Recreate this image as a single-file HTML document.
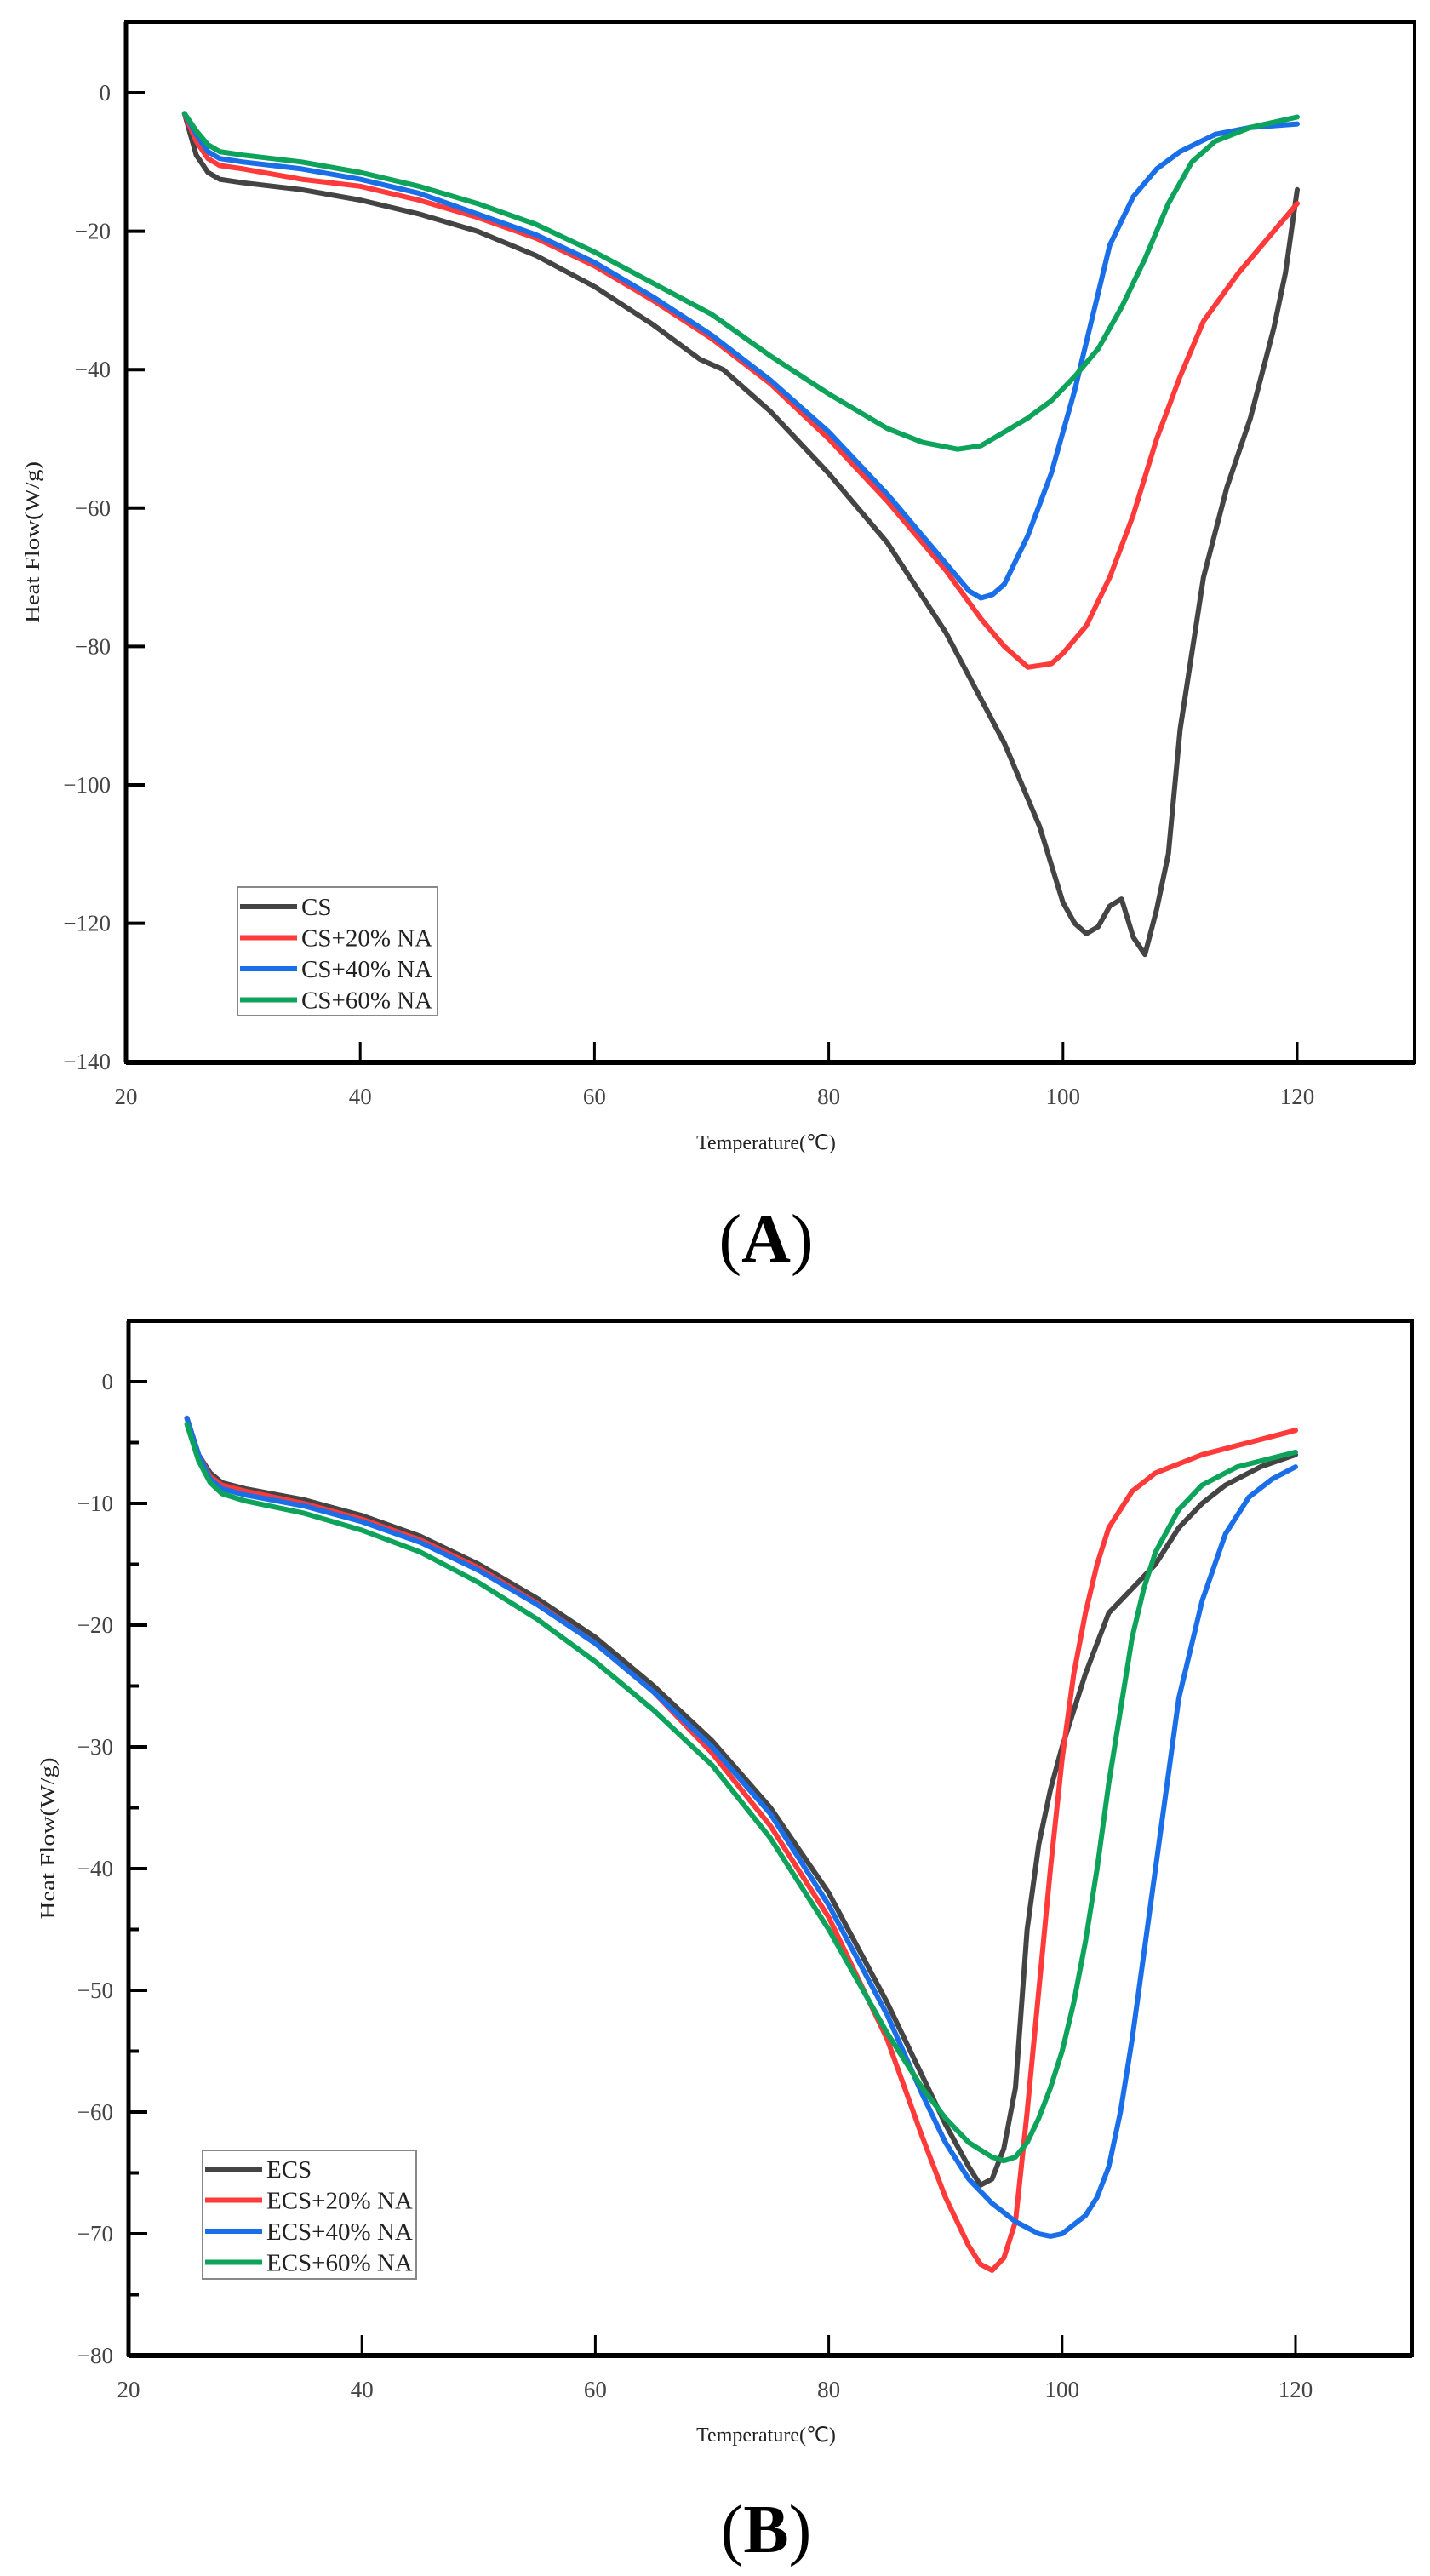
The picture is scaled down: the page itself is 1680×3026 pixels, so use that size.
<!DOCTYPE html>
<html><head><meta charset="utf-8"><style>
html,body{margin:0;padding:0;background:#fff;}
svg{display:block;font-family:"Liberation Serif",serif;}
</style></head><body>
<svg id="fig" width="1680" height="3026" viewBox="0 0 1680 3026"></svg>
<script>
// ---------- Panel A data ----------
const aX_CS   = [25,26,27,28,30,35,40,45,50,55,60,65,69,71,75,80,85,90,95,98,100,101,102,103,104,105,106,107,108,109,110,112,114,116,118,119,120];
const aY_CS   = [-3,-9,-11.5,-12.5,-13,-14,-15.5,-17.5,-20,-23.5,-28,-33.5,-38.5,-40,-46,-55,-65,-78,-94,-106,-117,-120,-121.5,-120.5,-117.5,-116.5,-122,-124.5,-118,-110,-92,-70,-57,-47,-34,-26,-14];
const aX_20   = [25,26,27,28,30,35,40,45,50,55,60,65,70,75,80,85,90,93,95,97,99,100,102,104,106,108,110,112,115,118,120];
const aY_20   = [-3,-7,-9.5,-10.5,-11,-12.5,-13.5,-15.5,-18,-21,-25,-30,-35.5,-42,-50,-59,-69,-76,-80,-83,-82.5,-81,-77,-70,-61,-50,-41,-33,-26,-20,-16];
const aX_40   = [25,26,27,28,30,35,40,45,50,55,60,65,70,75,80,85,88,90,92,93,94,95,97,99,101,102,103,104,106,108,110,113,116,120];
const aY_40   = [-3,-6,-8.5,-9.5,-10,-11,-12.5,-14.5,-17.5,-20.5,-24.5,-29.5,-35,-41.5,-49,-58,-64,-68,-72,-73,-72.5,-71,-64,-55,-43,-36,-29,-22,-15,-11,-8.5,-6,-5,-4.5];
const aX_60   = [25,26,27,28,30,35,40,45,50,55,60,65,70,75,80,85,88,91,93,95,97,99,101,103,105,107,109,111,113,116,120];
const aY_60   = [-3,-5.5,-7.5,-8.5,-9,-10,-11.5,-13.5,-16,-19,-23,-27.5,-32,-38,-43.5,-48.5,-50.5,-51.5,-51,-49,-47,-44.5,-41,-37,-31,-24,-16,-10,-7,-5,-3.5];
const aLabels = ["CS","CS+20% NA","CS+40% NA","CS+60% NA"];
const aYTicks = [0,-20,-40,-60,-80,-100,-120,-140];
// ---------- Panel B data ----------
const bX_CS = [25,26,27,28,30,35,40,45,50,55,60,65,70,75,80,85,88,90,92,93,94,95,96,97,98,99,100,102,104,106,108,110,112,114,117,120];
const bY_CS = [-3,-6,-7.5,-8.3,-8.8,-9.7,-11,-12.7,-15,-17.8,-21,-25,-29.5,-35,-42,-51,-57,-61,-64.5,-66,-65.5,-63,-58,-45,-38,-33.5,-30,-24,-19,-17,-15,-12,-10,-8.5,-7,-6];
const bX_20 = [25,26,27,28,30,35,40,45,50,55,60,65,70,75,80,85,88,90,92,93,94,95,96,97,98,99,100,101,102,103,104,106,108,112,116,120];
const bY_20 = [-3,-6,-7.8,-8.5,-9,-10,-11.3,-13,-15.3,-18.2,-21.5,-25.5,-30.5,-36.5,-44,-54,-62,-67,-71,-72.5,-73,-72,-69,-60,-50,-40,-31,-24,-19,-15,-12,-9,-7.5,-6,-5,-4];
const bX_40 = [25,26,27,28,30,35,40,45,50,55,60,65,70,75,80,85,88,90,92,94,96,98,99,100,102,103,104,105,106,107,108,109,110,112,114,116,118,120];
const bY_40 = [-3,-6,-8,-8.8,-9.3,-10.2,-11.5,-13.2,-15.5,-18.3,-21.5,-25.5,-30,-35.5,-43,-52,-58.5,-62.5,-65.5,-67.5,-69,-70,-70.2,-70,-68.5,-67,-64.5,-60,-54,-47,-40,-33,-26,-18,-12.5,-9.5,-8,-7];
const bX_60 = [25,26,27,28,30,35,40,45,50,55,60,65,70,75,80,85,88,90,92,94,95,96,97,98,99,100,101,102,103,104,105,106,107,108,110,112,115,120];
const bY_60 = [-3.5,-6.5,-8.3,-9.2,-9.8,-10.8,-12.2,-14,-16.5,-19.5,-23,-27,-31.5,-37.5,-45,-53.5,-58,-60.5,-62.5,-63.7,-64,-63.7,-62.5,-60.5,-58,-55,-51,-46,-40,-33,-27,-21,-17,-14,-10.5,-8.5,-7,-5.8];
const bLabels = ["ECS","ECS+20% NA","ECS+40% NA","ECS+60% NA"];
const bYTicks = [0,-10,-20,-30,-40,-50,-60,-70,-80];
const xTicks = [20,40,60,80,100,120];

const colors = ["#444444","#ff3a3a","#1a6fe8","#0ea35a"];
const NS = "http://www.w3.org/2000/svg";
const svg = document.getElementById("fig");
function mk(tag, attrs, parent){const e=document.createElementNS(NS,tag);for(const k in attrs)e.setAttribute(k,attrs[k]);(parent||svg).appendChild(e);return e;}

function panel(cfg){
  const g = mk("g",{});
  
  
  const L=cfg.left,R=cfg.right,T=cfg.top,B=cfg.bottom;
  const xs = v => L + (v-20)/100*(cfg.x120-L);
  const ys = v => cfg.y0 + (-v)*cfg.ppu;
  // series
  cfg.series.forEach((s,i)=>{
    const pts = s.x.map((xv,j)=>xs(xv).toFixed(1)+","+ys(s.y[j]).toFixed(1)).join(" ");
    const pl = mk("polyline",{points:pts,fill:"none",stroke:colors[i],"stroke-width":6,"stroke-linejoin":"round","stroke-linecap":"round"},g);
    
    
  });
  // frame
  const fr = mk("rect",{x:L,y:T,width:R-L,height:B-T,fill:"none",stroke:"#000","stroke-width":4},g);
  
  
  mk("line",{x1:L,y1:B,x2:R,y2:B,stroke:"#000","stroke-width":6},g);
  mk("line",{x1:L,y1:T,x2:L,y2:B,stroke:"#000","stroke-width":5},g);
  // x ticks
  xTicks.forEach(t=>{
    const x=xs(t);
    if(t>20) mk("line",{x1:x,y1:B,x2:x,y2:B-24,stroke:"#000","stroke-width":3},g);
    const tx = mk("text",{x:x,y:cfg.xLabelY,"text-anchor":"middle","font-size":27,fill:"#444"},g);
    tx.textContent=t;
    
    
  });
  // y ticks
  cfg.yTicks.forEach(t=>{
    const y=ys(t);
    mk("line",{x1:L,y1:y,x2:L+22,y2:y,stroke:"#000","stroke-width":4},g);
    const tx = mk("text",{x:L-18,y:y+9,"text-anchor":"end","font-size":27,fill:"#444"},g);
    tx.textContent=(t<0?"\u2212":"")+Math.abs(t);
    
    
  });
  if(cfg.minor){
    for(let i=0;i<cfg.yTicks.length-1;i++){
      const y=ys((cfg.yTicks[i]+cfg.yTicks[i+1])/2);
      mk("line",{x1:L,y1:y,x2:L+12,y2:y,stroke:"#000","stroke-width":4},g);
    }
  }
  // axis titles
  const xt = mk("text",{x:(L+R)/2-5,y:cfg.xTitleY,"text-anchor":"middle","font-size":24,fill:"#222"},g);
  xt.textContent="Temperature(\u2103)";
  
  
  const cy=(T+B)/2;
  const yt = mk("text",{x:cfg.yTitleX,y:cy,"text-anchor":"middle","font-size":24,fill:"#222",textLength:190,lengthAdjust:"spacingAndGlyphs",transform:`rotate(-90 ${cfg.yTitleX} ${cy})`},g);
  yt.textContent="Heat Flow(W/g)";
  
  
  // legend
  const lg = mk("g",{},g);
  
  
  mk("rect",{x:cfg.legX,y:cfg.legY,width:cfg.legW,height:cfg.legH,fill:"#fff",stroke:"#888","stroke-width":2},lg);
  cfg.labels.forEach((lab,i)=>{
    const y=cfg.legY+cfg.legPad+i*36.5;
    const ln = mk("line",{x1:cfg.legX+3,y1:y,x2:cfg.legX+70,y2:y,stroke:colors[i],"stroke-width":6},lg);
    
    
    const tx = mk("text",{x:cfg.legX+75,y:y+10,"font-size":29,fill:"#222"},lg);
    tx.textContent=lab;
    
    
  });
  // panel label
  const pl = mk("text",{x:(L+R)/2-5,y:cfg.capY,"text-anchor":"middle","font-size":80,fill:"#000"},g);
  pl.innerHTML = '(<tspan font-weight="bold">'+cfg.cap+'</tspan>)';
  
  
}

panel({name:"panel-a-chart",left:148,right:1662,top:26,bottom:1248,x120:1524,y0:109,ppu:8.13,
  series:[{x:aX_CS,y:aY_CS},{x:aX_20,y:aY_20},{x:aX_40,y:aY_40},{x:aX_60,y:aY_60}],
  labels:aLabels,yTicks:aYTicks,minor:false,xLabelY:1297,xTitleY:1350,yTitleX:46,
  legX:279,legY:1042,legW:235,legH:151,legPad:23,cap:"A",capY:1482});
panel({name:"panel-b-chart",left:151,right:1659,top:1552,bottom:2767,x120:1522,y0:1623,ppu:14.3,
  series:[{x:bX_CS,y:bY_CS},{x:bX_20,y:bY_20},{x:bX_40,y:bY_40},{x:bX_60,y:bY_60}],
  labels:bLabels,yTicks:bYTicks,minor:true,xLabelY:2816,xTitleY:2868,yTitleX:64,
  legX:238,legY:2526,legW:251,legH:151,legPad:22,cap:"B",capY:2998});
</script>
</body></html>
